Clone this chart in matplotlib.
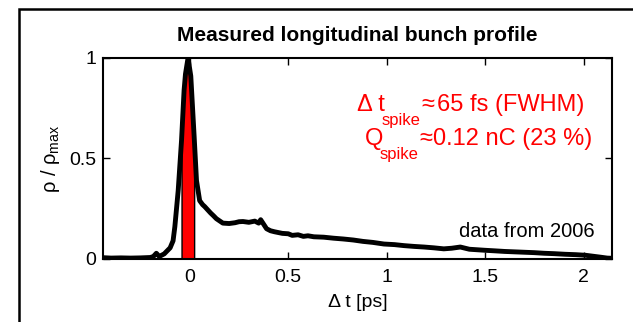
import numpy as np
import matplotlib.pyplot as plt
from matplotlib.patches import Rectangle
from matplotlib.transforms import IdentityTransform

plt.rcParams["font.family"] = ["Liberation Sans", "DejaVu Sans"]
plt.rcParams["mathtext.fontset"] = "custom"
plt.rcParams["mathtext.rm"] = "Liberation Sans"
plt.rcParams["mathtext.it"] = "Liberation Sans:italic"

# measured profile (t in ps, rho normalised)
t = [-0.44, -0.40, -0.35, -0.30, -0.25, -0.20, -0.185, -0.17, -0.155, -0.13,
     -0.10, -0.085, -0.076, -0.059, -0.042, -0.029, -0.022, -0.009, 0.005,
     0.022, 0.034, 0.05, 0.065, 0.076, 0.09, 0.106, 0.12, 0.135, 0.15, 0.168,
     0.20, 0.23, 0.25, 0.27, 0.30, 0.33, 0.35, 0.36, 0.39, 0.41, 0.43, 0.47,
     0.50, 0.52, 0.55, 0.577, 0.60, 0.63, 0.68, 0.73, 0.78, 0.83, 0.88, 0.93,
     0.986, 1.04, 1.088, 1.14, 1.19, 1.24, 1.29, 1.33, 1.374, 1.42, 1.497, 1.55,
     1.60, 1.65, 1.70, 1.75, 1.80, 1.85, 1.906, 1.96, 2.01, 2.05, 2.09, 2.12, 2.145]
rho = [0.006, 0.004, 0.005, 0.004, 0.005, 0.007, 0.012, 0.028, 0.012, 0.025,
       0.055, 0.09, 0.16, 0.34, 0.59, 0.84, 0.92, 1.0, 0.91,
       0.61, 0.39, 0.29, 0.27, 0.26, 0.245, 0.228, 0.215, 0.2, 0.19, 0.178,
       0.176, 0.18, 0.185, 0.186, 0.182, 0.188, 0.178, 0.195, 0.15, 0.14, 0.135, 0.127,
       0.125, 0.117, 0.12, 0.112, 0.115, 0.11, 0.108, 0.103, 0.099, 0.094, 0.087, 0.082,
       0.074, 0.071, 0.066, 0.062, 0.059, 0.055, 0.05, 0.053, 0.059, 0.048, 0.043, 0.04,
       0.037, 0.035, 0.033, 0.031, 0.028, 0.026, 0.023, 0.021, 0.018, 0.013, 0.008, 0.004, 0.003]
spike_lo, spike_hi = -0.042, 0.022

xticks = [0, 0.5, 1, 1.5, 2]
yticks = [0, 0.5, 1]

t = np.array(t)
rho = np.array(rho)

fig = plt.figure(figsize=(6.33, 3.22), dpi=100)
ax = fig.add_axes([0.163, 0.196, 0.804, 0.624])

# red FWHM spike region
m = (t >= spike_lo) & (t <= spike_hi)
ax.fill_between(t[m], 0, rho[m], color="red", edgecolor="black", linewidth=1, zorder=2)
ax.plot(t, rho, color="black", lw=3.5, zorder=3)

ax.set_xlim(-0.44, 2.145)
ax.set_ylim(0, 1)
ax.set_xticks(xticks)
ax.set_xticklabels(["0", "0.5", "1", "1.5", "2"])
ax.set_yticks(yticks)
ax.set_yticklabels(["0", "0.5", "1"])
ax.tick_params(direction="in", length=5, width=1, labelsize=14, top=True, right=True)
ax.tick_params(axis="x", pad=7)
ax.tick_params(axis="y", pad=5)
for s in ax.spines.values():
    s.set_linewidth(1.5)

fig.text(0.564, 1 - 41 / 322, "Measured longitudinal bunch profile", fontsize=15,
         fontweight="bold", ha="center", va="baseline")
ax.set_xlabel("Δ t [ps]", fontsize=14, labelpad=6)
ax.set_ylabel(r"ρ / ρ$_{\mathrm{max}}$", fontsize=14.5, labelpad=5)

ax.text(2.056, 0.109, "data from 2006", fontsize=14.5, ha="right", va="baseline")


# red annotation with big, deep subscripts (pixel positions, origin bottom-left)
renderer = fig.canvas.get_renderer()


def rich_line(x, y, parts):
    for txt, size, dy, gap in parts:
        tt = fig.text(x + gap, y + dy, txt, transform=IdentityTransform(),
                      fontsize=size, color="red", va="baseline")
        x = tt.get_window_extent(renderer).x1


rich_line(357, 322 - 111, [("Δ t", 17, 0, 0), ("spike", 12, -14, -3),
                           ("≈", 17, 0, 1), ("65 fs (FWHM)", 17, 0, 2)])
rich_line(365, 322 - 145, [("Q", 17, 0, 0), ("spike", 12, -14, -4),
                           ("≈", 17, 0, 1), ("0.12 nC (23 %)", 17, 0, 1)])

# slide frame
fig.patches.append(Rectangle((19 / 633, -0.2), 1.2, 1 - 9 / 322 + 0.2,
                             transform=fig.transFigure, fill=False,
                             edgecolor="black", linewidth=1.8))

fig.savefig("out.png", dpi=100)
